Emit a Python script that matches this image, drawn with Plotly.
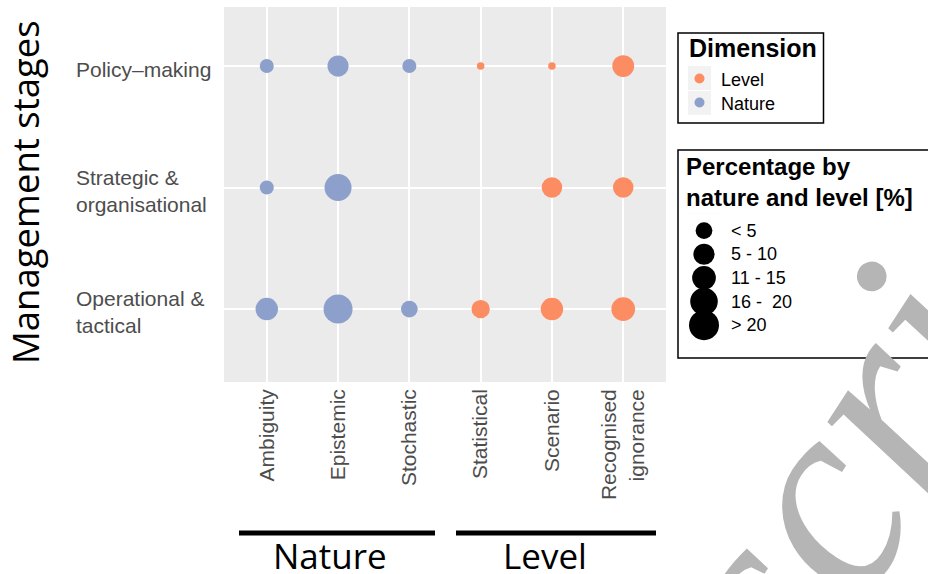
import plotly.graph_objects as go
import math

# ---------------- data ----------------
stages = ["Operational &<br>tactical", "Strategic &<br>organisational", "Policy–making"]
nature_cats = ["Ambiguity", "Epistemic", "Stochastic"]
level_cats = ["Statistical", "Scenario", "Recognised<br>ignorance"]
x_categories = nature_cats + level_cats

# percentage by nature (rows follow `stages` order), None = absent
nature_operational = [18, 30, 10]
nature_strategic = [7, 26, None]
nature_policy = [7, 16, 7]

level_operational = [12, 18, 20]
level_strategic = [None, 15, 15]
level_policy = [2, 2, 17]

dimension_names = ["Level", "Nature"]
size_legend_labels = ["< 5", "5 - 10", "11 - 15", "16 -  20", "> 20"]
size_legend_values = [10, 16, 20, 27, 32]

# ---------------- styling ----------------
W, H = 928, 574
BLUE = "#8DA0CB"
ORANGE = "#FC8D62"
PANEL = "#EBEBEB"
KEY_BG = "#F2F2F2"
TICK_GREY = "#4D4D4D"
SANS = "Liberation Sans"
TITLE_FONT = "Open Sans"
dim_colors = [ORANGE, BLUE]


def diam(v):
    return 5.3 * math.sqrt(v)


def px_x(p):
    return p / W


def px_y(p):
    return (H - p) / H


def build(cats, rows):
    xs, ys, ss = [], [], []
    for stage, vals in zip(stages, rows):
        for c, v in zip(cats, vals):
            if v is None:
                continue
            xs.append(c)
            ys.append(stage)
            ss.append(diam(v))
    return xs, ys, ss


fig = go.Figure()

lx, ly, ls = build(level_cats, [level_operational, level_strategic, level_policy])
nx, ny, ns = build(nature_cats, [nature_operational, nature_strategic, nature_policy])

fig.add_trace(go.Scatter(x=lx, y=ly, mode="markers", name=dimension_names[0], showlegend=False,
                         marker=dict(size=ls, color=ORANGE, line=dict(width=0), opacity=1),
                         hoverinfo="skip"))
fig.add_trace(go.Scatter(x=nx, y=ny, mode="markers", name=dimension_names[1], showlegend=False,
                         marker=dict(size=ns, color=BLUE, line=dict(width=0), opacity=1),
                         hoverinfo="skip"))

# size legend keys on their own small axes
fig.add_trace(go.Scatter(x=[0] * len(size_legend_labels), y=size_legend_labels,
                         mode="markers", showlegend=False, xaxis="x2", yaxis="y2",
                         cliponaxis=False,
                         marker=dict(size=[diam(v) for v in size_legend_values],
                                     color="black", opacity=1, line=dict(width=0)),
                         hoverinfo="skip"))

# dimension legend keys
fig.add_trace(go.Scatter(x=[0] * len(dimension_names), y=dimension_names,
                         mode="markers", showlegend=False, xaxis="x3", yaxis="y3",
                         cliponaxis=False,
                         marker=dict(size=10, color=dim_colors, opacity=1, line=dict(width=0)),
                         hoverinfo="skip"))

annotations = []
# y category labels (left aligned like ggplot hjust=0)
for s in stages:
    annotations.append(dict(text=s, xref="paper", yref="y", x=px_x(74), y=s,
                            xanchor="left", yanchor="middle", align="left", showarrow=False,
                            yshift=-3, font=dict(family=SANS, size=21, color=TICK_GREY)))
# axis title
annotations.append(dict(text="Management stages", xref="paper", yref="paper",
                        x=px_x(25), y=px_y(192), textangle=-90, showarrow=False,
                        xanchor="center", yanchor="middle",
                        font=dict(family=TITLE_FONT, size=36.5, color="black")))
# group labels
annotations.append(dict(text="Nature", xref="paper", yref="paper", x=px_x(330), y=px_y(530),
                        xanchor="center", yanchor="top", showarrow=False,
                        font=dict(family=TITLE_FONT, size=35, color="black")))
annotations.append(dict(text="Level", xref="paper", yref="paper", x=px_x(545), y=px_y(530),
                        xanchor="center", yanchor="top", showarrow=False,
                        font=dict(family=TITLE_FONT, size=35, color="black")))
# dimension legend title and labels
annotations.append(dict(text="<b>Dimension</b>", xref="paper", yref="paper",
                        x=px_x(687), y=px_y(47.5), xanchor="left", yanchor="middle",
                        showarrow=False, font=dict(family=SANS, size=25, color="black")))
for lab in dimension_names:
    annotations.append(dict(text=lab, xref="paper", yref="y3", x=px_x(719), y=lab,
                            xanchor="left", yanchor="middle", showarrow=False, yshift=-1,
                            font=dict(family=SANS, size=18, color="black")))
# size legend title and labels
annotations.append(dict(text="<b>Percentage by<br>nature and level [%]</b>", xref="paper", yref="paper",
                        x=px_x(684), y=px_y(151), xanchor="left", yanchor="top", align="left",
                        showarrow=False, font=dict(family=SANS, size=24, color="black")))
for lab in size_legend_labels:
    annotations.append(dict(text=lab, xref="paper", yref="y2", x=px_x(729), y=lab,
                            xanchor="left", yanchor="middle", showarrow=False,
                            font=dict(family=SANS, size=18, color="black")))
# watermark
annotations.append(dict(text="<i>Manuscript</i>", xref="paper", yref="paper",
                        x=px_x(716), y=px_y(655), xanchor="center", yanchor="middle",
                        textangle=-57, showarrow=False,
                        font=dict(family="Liberation Serif", size=280, color="#B5B5B5")))

shapes = [
    dict(type="line", xref="paper", yref="paper", x0=px_x(239), x1=px_x(435), y0=px_y(533), y1=px_y(533),
         line=dict(color="black", width=5)),
    dict(type="line", xref="paper", yref="paper", x0=px_x(456), x1=px_x(656), y0=px_y(533), y1=px_y(533),
         line=dict(color="black", width=5)),
    # size legend frame
    dict(type="rect", xref="paper", yref="paper", x0=px_x(678), x1=px_x(930), y0=px_y(358), y1=px_y(150),
         line=dict(color="black", width=1.5), layer="below"),
    # dimension legend frame
    dict(type="rect", xref="paper", yref="paper", x0=px_x(678), x1=px_x(823.5), y0=px_y(123), y1=px_y(33),
         line=dict(color="black", width=1.5), layer="below"),
    # white background behind the size-legend keys
    dict(type="rect", xref="x2 domain", yref="y2 domain", x0=0, x1=1, y0=0, y1=1,
         fillcolor="white", line=dict(width=0), layer="below"),
    # key backgrounds of the dimension legend
    dict(type="rect", xref="x3 domain", yref="y3 domain", x0=0, x1=1, y0=0, y1=1,
         fillcolor=KEY_BG, line=dict(width=0), layer="below"),
    dict(type="line", xref="x3 domain", yref="y3 domain", x0=0, x1=1, y0=0.5, y1=0.5,
         line=dict(color="white", width=1), layer="below"),
]

fig.update_layout(
    width=W, height=H,
    margin=dict(l=0, r=0, t=0, b=0),
    paper_bgcolor="white",
    plot_bgcolor=PANEL,
    showlegend=False,
    xaxis=dict(domain=[px_x(224), px_x(666)], type="category",
               categoryorder="array", categoryarray=x_categories,
               range=[-0.6, 5.6], showgrid=True, gridcolor="white", gridwidth=1.5,
               zeroline=False, showline=False, ticks="", tickangle=-90,
               ticklabelstandoff=2,
               tickfont=dict(family=SANS, size=21, color=TICK_GREY), fixedrange=True),
    yaxis=dict(domain=[px_y(382), px_y(7)], type="category",
               categoryorder="array", categoryarray=stages,
               range=[-0.6, 2.486], showgrid=True, gridcolor="white", gridwidth=1.5,
               zeroline=False, showline=False, ticks="", showticklabels=False, fixedrange=True),
    xaxis2=dict(domain=[px_x(688), px_x(720)], range=[-1, 1], visible=False, anchor="y2",
                fixedrange=True),
    yaxis2=dict(domain=[px_y(350.75), px_y(213.25)], type="category",
                categoryorder="array", categoryarray=size_legend_labels,
                autorange="reversed", visible=False, anchor="x2", fixedrange=True),
    xaxis3=dict(domain=[px_x(688), px_x(711)], range=[-1, 1], visible=False, anchor="y3",
                fixedrange=True),
    yaxis3=dict(domain=[px_y(114.5), px_y(66.5)], type="category",
                categoryorder="array", categoryarray=dimension_names,
                range=[1.5, -0.5], visible=False, anchor="x3", fixedrange=True),
    annotations=annotations,
    shapes=shapes,
)

fig.write_html("out.html", config={"displayModeBar": False},
               post_script="document.body.style.margin='0';document.body.style.padding='0';")
